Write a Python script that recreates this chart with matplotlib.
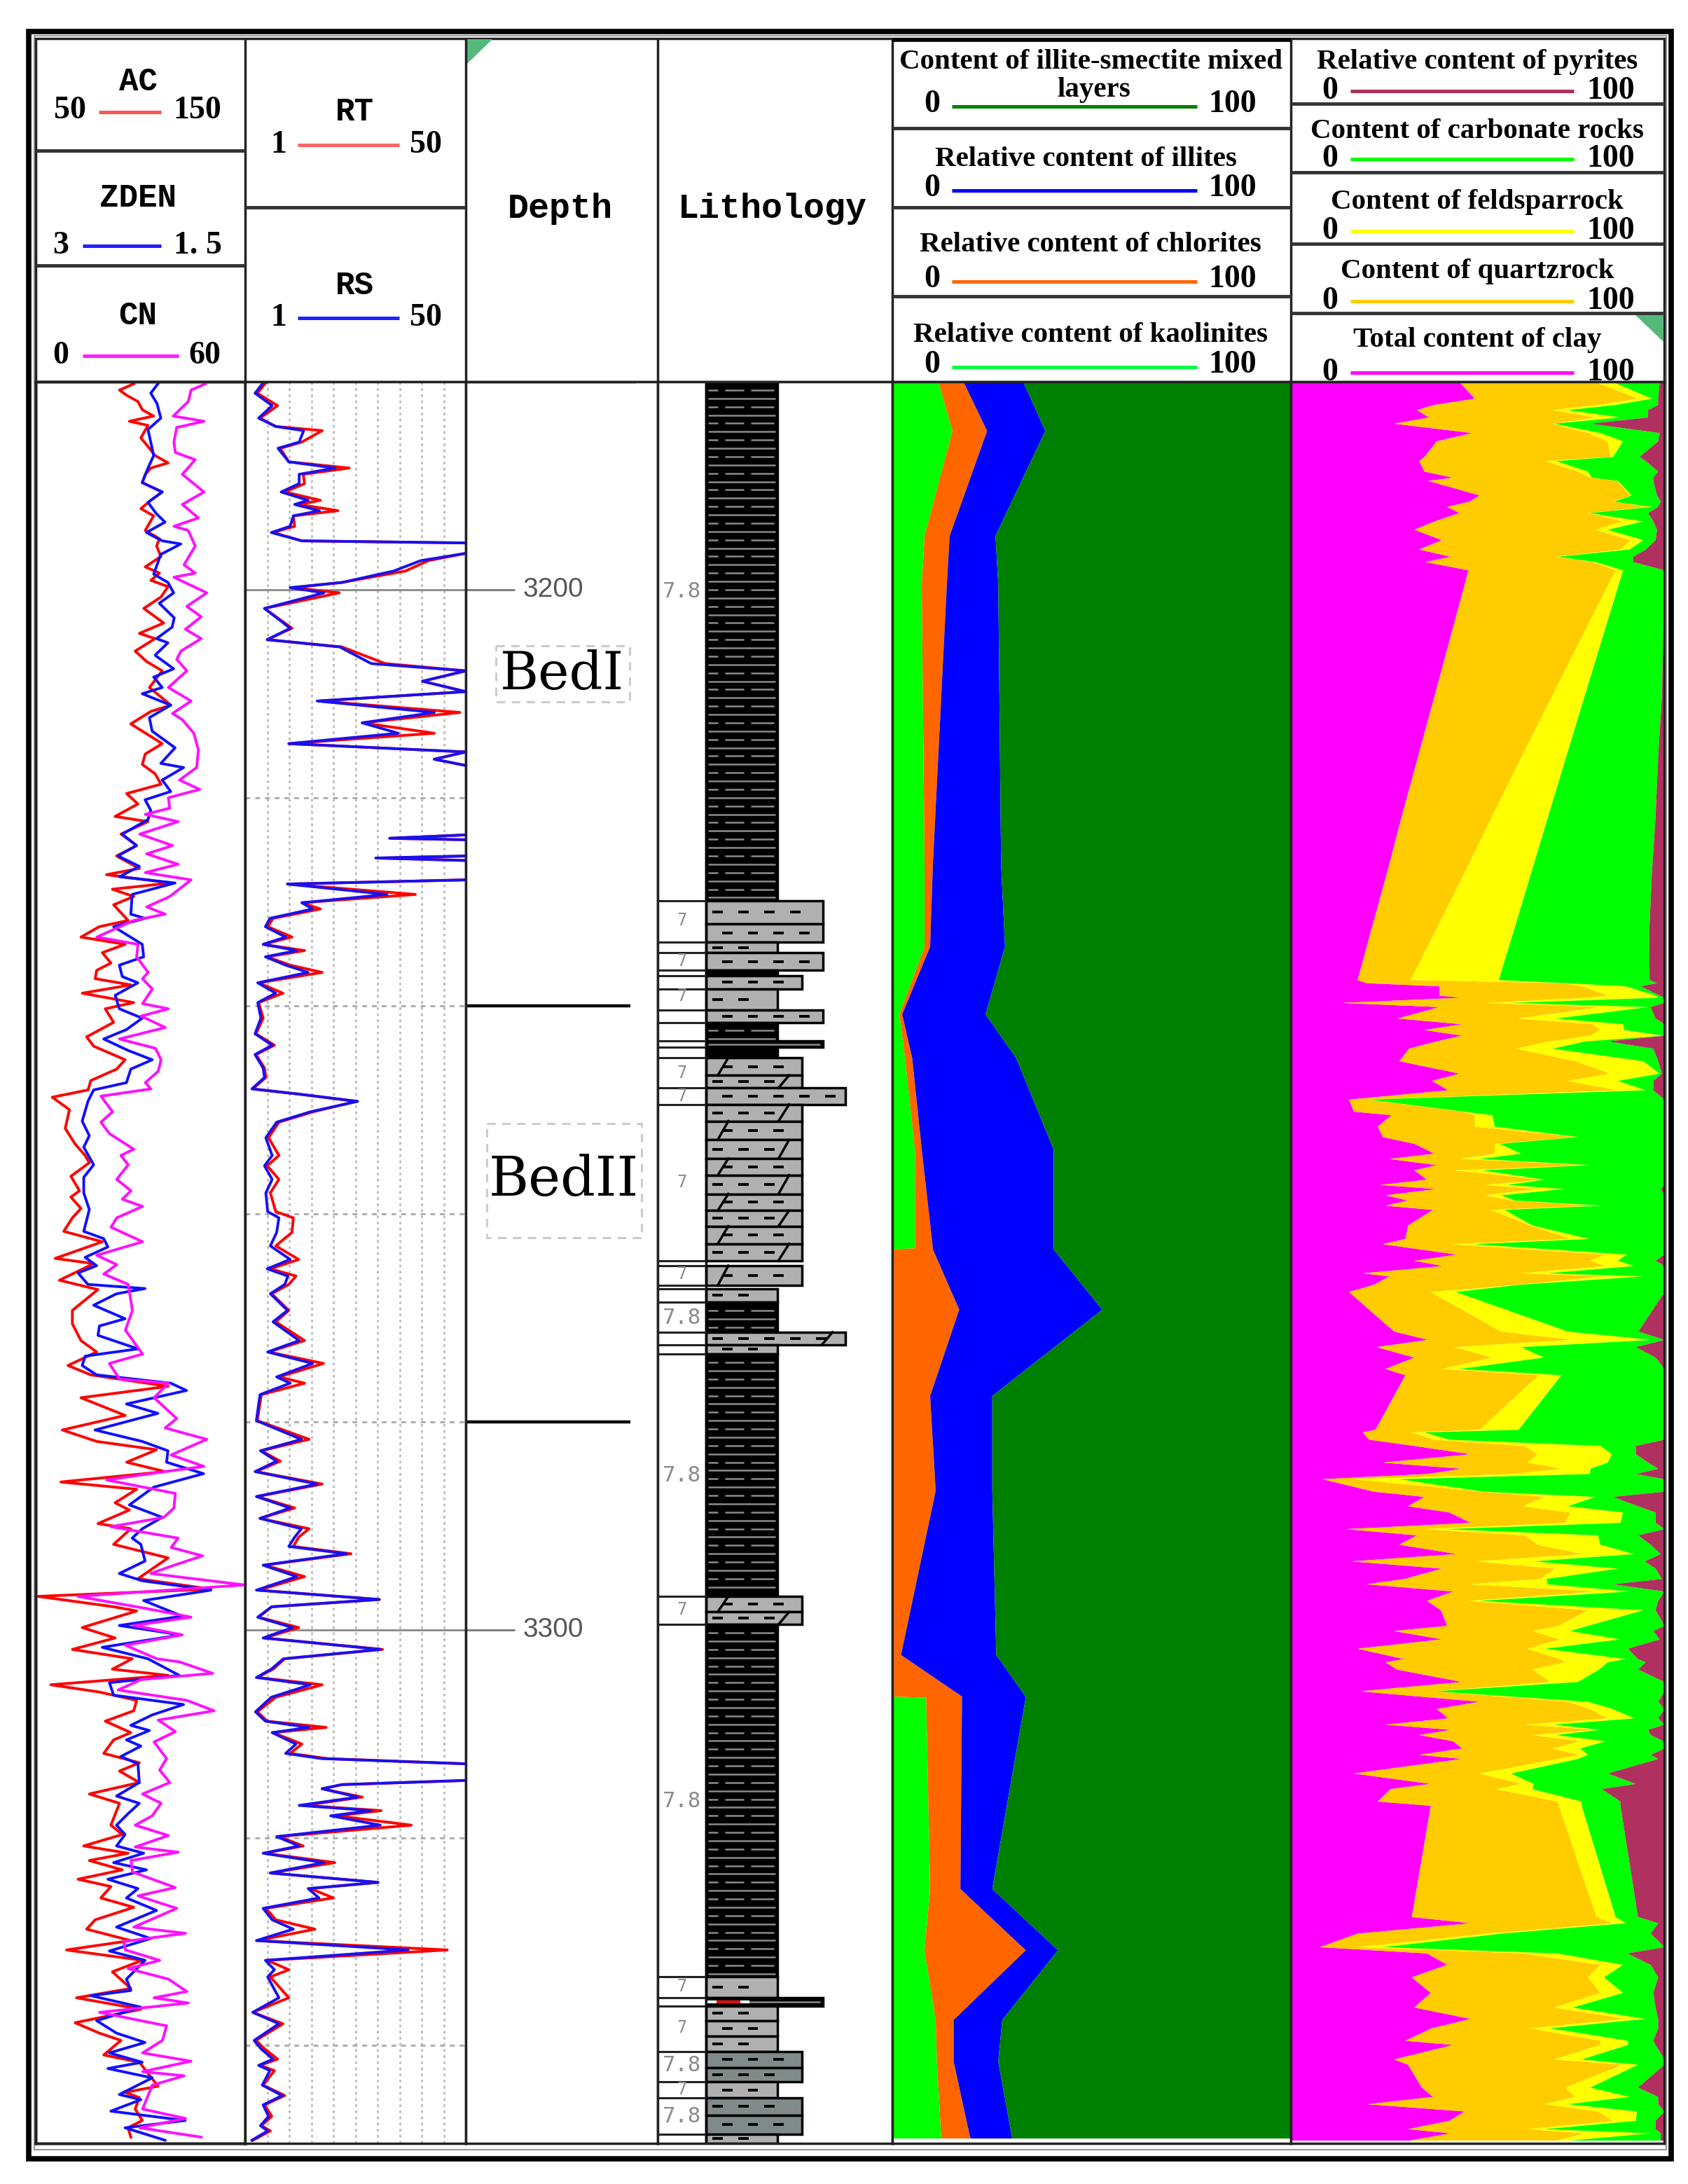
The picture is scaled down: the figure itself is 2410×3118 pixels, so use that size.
import numpy as np
import matplotlib
matplotlib.use("Agg")
import matplotlib.pyplot as plt
from matplotlib.patches import Rectangle, Polygon

W, H = 2410, 3118
TOP_DEPTH, BOTTOM_DEPTH = 3180, 3349.4

# track 1 logs
ac_depth = [3180.2,3180.8,3181.3,3181.9,3182.7,3183.3,3183.8,3184.2,3185.4,3186.4,
    3187.1,3187.8,3188.3,3188.9,3189.7,3190.6,3191.4,3192.2,3192.9,3194.3,
    3195.1,3195.8,3196.8,3197.8,3198.4,3199.1,3199.7,3200.7,3201.8,3203.2,
    3204.2,3204.7,3205.9,3206.9,3207.8,3209.4,3211.1,3211.7,3212.9,3213.6,
    3214.8,3215.8,3216.8,3217.7,3218.7,3219.6,3220.6,3221.8,3222.3,3223.5,
    3224.6,3225.6,3226.8,3227.4,3228.2,3228.8,3229.5,3230.3,3231.8,3232.4,
    3233.4,3234.1,3234.9,3235.9,3236.6,3237.4,3238,3238.8,3239.7,
    3240.3,3241.6,3243,3243.9,3245.2,3246.1,3247.2,3248.1,3248.8,3250,
    3251.8,3253.3,3254.4,3255.1,3256.4,3257.8,3258.4,3259.5,3260.4,3261.7,
    3262.7,3264.3,3264.8,3266.4,3267.3,3269.3,3270.6,3272.2,3273.3,3274.6,
    3275.5,3276.6,3277.7,3279.4,3280.8,3281.9,3282.7,3283.9,3284.8,3285.8,
    3286.5,3287.8,3288.5,3289.8,3290.3,3291.8,3293.1,
    3295.1,3296.1,3296.8,3297.8,3298.2,3299.8,3300.8,3301.9,3302.8,3303.8,
    3304.4,3305.3,3306,3306.8,3307.8,3308.8,3309.9,3310.6,3311.9,3312.8,
    3313.6,3314.7,3315.8,3316.7,3318.8,3319.7,3320.8,3321.5,3322.2,3323.1,
    3324,3324.7,3325.8,3326.7,3327.9,3328.8,3329.9,3330.8,3331.8,3332.9,
    3334.5,3335.4,3336.5,3337.8,3338.8,3339.5,3340.9,3341.6,3343.9,3344.5,
    3345,3346.1,3347.2,3347.9,3348.8]
ac = [96.8,90,93.4,98.8,100.9,106.3,94.7,103.6,100.2,104.3,
    107,113.2,105,102.3,100.9,110.4,105,100.2,106.3,102.3,
    109.1,107.7,109.8,102.3,109.1,105,113.2,109.8,101.6,111.1,
    99.5,107,97.5,102.9,110.4,104.3,114.5,105,95.4,100.9,
    110.4,102.3,100.9,107,109.8,93.4,98.8,87.9,103.6,90.7,
    98.2,88.6,99.5,83.8,114.5,86.6,96.8,87.2,94.1,80.4,
    71.6,92.7,81.8,85.9,79.1,78.4,95.4,72.2,96.8,
    83.2,87.2,74.3,77.7,92.7,88.6,76.3,75,57.9,66.1,
    64.1,68.8,73.6,75.6,66.8,70.9,66.8,71.6,67.5,63.4,
    81.8,59.3,77.7,61.3,79.7,67.5,67.5,71.6,79.1,65.4,
    76.3,113.2,71.6,92.7,62.7,79.1,107.7,93.4,111.8,62,
    98.2,87.9,94.7,79.7,95.4,87.2,113.2,
    98.8,133.6,51.1,87.2,98.2,72.2,87.9,67.5,96.1,86.6,
    113.2,57.2,80.4,98.2,96.8,83.2,95.4,87.2,82.5,99.5,
    90,99.5,75.6,90,85.9,91.3,72.9,94.1,75.6,91.3,
    70.2,85.9,81.1,96.8,78.4,74.3,95.4,64.7,100.9,86.6,
    95.4,69.5,100.2,68.8,80.4,90.7,82.5,99.5,108.4,92.7,
    99.5,97.5,100.9,94.1,95.4]

zden_depth = [3180.2,3181.1,3182.1,3183.5,3184.6,3185.8,3187.1,3188.3,3189.7,3190.6,
    3191.6,3192.7,3193.5,3194.5,3195.3,3195.6,3196.6,3198.5,3199.3,3200.3,
    3201.3,3202.7,3203.6,3204.7,3205.1,3206.3,3207.6,3208.4,3209.4,3210,
    3211.1,3212.3,3213.6,3215.2,3216.7,3217.1,3218.3,3219.4,3220.2,3221.2,
    3222.1,3223.5,3224.6,3225.6,3226.6,3227.6,3228.2,3229.3,3231.2,3231.6,
    3232.4,3234.1,3235.3,3236.1,3237.2,3237.8,
    3239,3240.3,3241.2,3242.3,3243.2,3244.3,3245.2,3246.1,3247.4,3248.1,
    3249.2,3251.1,3252.5,3253.6,3255.3,3256.5,3258,3259.6,3261.7,3262.4,
    3263.2,3264.2,3265,3265.7,3266.8,3267.2,3267.7,3268.8,3270.1,3270.8,
    3271.7,3273,3273.7,3274.6,3275.5,3276.3,3277,3278.3,3279.2,3280.8,
    3281.9,3282.8,3283.9,3285,3286.3,3288,3289.2,3290.3,3291.2,3291.8,
    3293.4,
    3294.6,3295.3,3296.2,3297.2,3298.7,3299.6,3300.5,3301.7,3302.8,3304.4,
    3305.1,3306.3,3307.2,3308.2,3309.2,3309.7,3310.6,3311.2,3312.2,3312.9,
    3314.7,3316,3316.7,3317.7,3318.8,3319.7,3320.8,3321.5,3322.4,3323.1,
    3324,3324.9,3325.8,3327,3328.6,3329.7,3330.9,3331.8,3333.6,3334.7,
    3335.2,3336.3,3337.6,3338.8,3339.7,3340.7,3341.6,3342.2,3343.1,3344.7,
    3345.2,3346.3,3347.2,3347.9,3349.1]
zden = [2.125,2.176,2.131,2.104,2.196,2.176,2.155,2.196,2.237,2.094,
    2.196,2.135,2.074,2.207,2.094,1.961,2.104,2.155,2.053,2.012,
    2.115,2.008,2.023,2.135,2.053,2.145,2.012,2.155,2.094,2.237,
    2.033,2.186,2.166,2.002,2.104,1.941,2.094,2.033,2.217,2.176,
    2.196,2.38,2.278,2.411,2.258,2.401,2.002,2.309,2.319,2.217,
    2.442,2.237,2.227,2.401,2.38,2.268,
    2.431,2.401,2.237,2.35,2.513,2.339,2.166,2.319,2.35,2.585,
    2.626,2.667,2.616,2.656,2.585,2.656,2.656,2.616,2.656,2.513,
    2.483,2.646,2.564,2.697,2.626,2.217,2.421,2.585,2.36,2.544,
    2.554,2.268,2.646,2.667,2.564,2.033,1.92,2.35,2.125,2.575,
    2.237,2.053,2.063,1.798,2.155,2.329,2.094,2.237,2.309,2.247,
    2.217,
    2.401,2.237,1.746,2.227,1.951,2.401,1.961,2.524,2.196,1.971,
    2.472,2.442,1.941,2.166,2.319,2.186,2.35,2.247,2.39,2.268,
    2.258,2.421,2.258,2.339,2.421,2.36,2.421,2.227,2.442,2.207,
    2.483,2.268,2.35,2.135,2.421,2.176,2.472,2.217,2.35,2.319,
    2.605,2.247,2.564,2.421,2.217,2.472,2.237,2.483,2.166,2.401,
    2.247,2.462,1.93,2.36,2.074]

cn_depth = [3180.2,3180.8,3181.9,3183.3,3183.8,3184.4,3185.8,3186.8,3187.5,3188.9,
    3190.6,3191.8,3193.1,3193.9,3194.3,3195.8,3197.6,3198.4,3198.8,3200.3,
    3201.6,3202.6,3203.8,3204.7,3205.9,3206.7,3207.8,3209.4,3210.7,3211.9,
    3212.5,3213.8,3215.4,3217.1,3218.3,3219.2,3220,3221,3221.6,3222.3,
    3223.5,3224.6,3225.4,3226.4,3227.2,3227.9,3229.5,3230.5,3231.2,3231.8,
    3233.4,3234.1,3235.3,3236.8,3237.4,3238.4,
    3239.8,3240.3,3241,3242.1,3243.2,3244.1,3245.2,3246.3,3247.4,3248,
    3248.7,3250.2,3251.2,3252.3,3253.8,3254.4,3255.3,3256.7,3257.8,3258.6,
    3259.3,3260.4,3261.3,3262.7,3264,3264.9,3265.8,3266.8,3269.3,3271.2,
    3273.5,3274.4,3275.9,3276.3,3277.7,3279.7,3280.6,3281.7,3283.2,3284.3,
    3284.8,3285.6,3286.9,3288.3,3289.2,3290.1,3291.2,3292.1,3292.9,
    3293.9,3294.6,3295.7,3296.8,3298,3298.8,3299.6,3300.5,3301.5,3302.8,
    3303.1,3304.2,3304.8,3305.8,3306.8,3307.8,3308.7,3309.8,3310.8,3312.4,
    3313.5,3314.7,3315.8,3316.7,3317.9,3318.8,3319.8,3320.9,3321.4,3322.2,
    3323.3,3324.8,3325.6,3326.8,3328.6,3329.2,3330,3330.8,3331.8,3332.6,
    3333.6,3334.8,3335.4,3335.9,3336.8,3338.1,3339.5,3340.7,3341.5,3342.5,
    3342.9,3343.8,3346.1,3347,3347.9,3348.8]
cn = [48.6,44.5,43.7,39.4,48.2,40.4,39.6,40,45.7,42,
    48.2,42,46.6,39.6,43.7,45.7,42.5,45.7,39.6,49,
    43.3,47.4,42.9,47.4,41.6,40.4,43.3,38,44.5,39.2,
    42,45.3,46.6,46.1,41.2,47,38,38.4,31.4,40.8,
    29.8,39.2,31.8,40.8,31.4,44.5,38.4,31.8,37.1,28.1,
    17.5,29.3,28.9,32.2,30.6,33.4,
    30.6,38,30.2,37.1,24,34.3,35.9,35.1,31.4,33,
    18.7,22,18.7,21.1,28.1,24.4,26.5,23.2,27.3,24.8,
    30.6,23.2,21.6,30.6,17.5,23.2,19.5,26.5,27.7,25.7,
    30.6,21.1,24,38,33.9,40.4,37.1,49,38.8,48.2,
    37.1,20.3,40,39.6,36.7,21.6,40.8,38.8,47.8,
    38.8,33,59.8,12.1,32.2,44.5,28.1,42,25.7,34.7,
    41.2,50.7,30.2,23.6,43.3,51.1,35.1,40,33.9,37.5,
    35.5,38.4,30.6,35.9,33.4,28.5,38,28.5,40.8,27.3,
    27.7,40,29.3,40.4,28.1,42.9,25.2,25.7,35.5,26.5,
    38,43.3,33.9,43.7,18.3,37.5,36.3,30.6,44.5,30.6,
    42.5,33.4,30.6,42.9,29.8,47.4]

# track 2 resistivity, 80 means off the scale
res_depth = [3180.1,3181.1,3182.3,3183.5,3184.3,3184.7,3185.8,3186.4,3187.7,3188.3,
    3188.9,3189.8,3190.6,3191.4,3191.8,3192.4,3192.9,3193.9,3194.5,3195.3,
    3195.5,3196,3196.5,3197.2,3198.2,3199.3,3199.8,3200.3,3201.8,3203.7,
    3204.8,3205.5,3207.1,3207.8,3208.8,3209.8,3210.7,3211.8,3212.8,3213.8,
    3214.8,3215.6,3216.3,3216.9,3217.5,3223,3223.9,3224.3,3225.3,3225.8,
    3226.4,3227.6,3228.3,3229.3,3230.1,3230.7,3231.6,3232.4,3233.4,3234.1,
    3234.7,3235.3,3236.1,3236.8,3237.8,3238.8,3239.7,3241.2,3242.7,3243.8,
    3244.7,3246,3246.9,3248,3248.5,3249.2,3250.2,3251.2,3252.7,3254.4,
    3255.4,3256.7,3258,3259.8,3260.4,3261.8,3263.1,3264.4,3265.3,3266,
    3266.8,3267.7,3269.3,3270.4,3272.2,3273.3,3274.4,3275.7,3276.3,3277.4,
    3279.9,3281.7,3282.8,3283.8,3284.8,3286,3287.2,3288.3,3289.3,3290.3,
    3291.1,3292,3292.7,3293.8,3294.9,3296.2,3297.1,3297.8,3298.8,3299.8,
    3300.8,3301.9,3302.8,3303.8,3304.6,3305.3,3306.5,3307.9,3308.8,3309.4,
    3309.9,3311,3311.9,3312.4,3312.9,3313.8,3314.5,3314.9,3315.3,3316.1,
    3316.9,3317.4,3317.9,3318.8,3319.9,3320.8,3321.5,3322.4,3323.4,3324.3,
    3324.9,3325.8,3326.8,3327.9,3328.8,3329.9,3330.8,3331.8,3332.7,3333.4,
    3335.4,3336.8,3337.9,3339.5,3340.3,3341.3,3341.9,3342.4,3343.8,3344.8,
    3345.7,3346.8,3347.7,3348.2,3349.1]
rt = [5.6,3.7,8.2,4.3,7.8,18.1,13.6,8.8,10.7,24.1,
    13.9,14.2,9.8,17.7,12.9,21.6,11.7,12,7.2,13.6,
    50,80,50,41.7,36.6,22.5,11.7,21.9,5.3,11.4,
    5.9,22.5,32.1,50,40.4,50,17.4,48.7,27,43,
    10.7,50,43,50,80,80,33.1,80,80,31.2,
    80,80,10.4,38.8,13.6,17.7,7.2,6,11.4,5,
    14.2,5.9,11,18.1,4,9.4,4,5,3.4,7.5,
    3.4,5.3,5.6,2.7,12.9,25.7,16.1,8.5,6.2,8.5,
    5.9,8.5,6.6,7.8,11.7,11.4,7.8,12.9,6.6,12.3,
    10.7,6.9,10.7,7.8,14.2,6.2,18.4,8.5,14.2,4.6,
    3.7,15.2,4.6,8.8,3.4,18.1,3.7,12,4.3,15.2,
    12.9,11.7,24.5,5.3,14.2,4,30.8,6.9,4,12.9,
    5.3,31.5,9.8,7.2,3.7,18.1,7.8,3.7,5.9,19,
    7.2,13.6,11,19.3,50,80,50,22.5,18.1,27,
    14.2,31.2,21.3,37.9,8.5,13.9,5.3,20.9,6.6,30.5,
    15.5,20.6,5.6,7.8,16.5,3.7,45.9,5.9,10.7,6.6,
    10.7,2.7,9.4,3.4,5.3,8.2,4.3,7.5,5,9.8,
    5.3,6.9,4.6,6.6,2.7]
rs = [5,3.2,7,4,7.8,14,13,8.3,10.7,21,
    13,13,9,15,12,17.5,11.7,11,6.8,13.6,
    50,80,50,40,34,22.5,11,18.5,5.3,11,
    5.9,22,29,50,40.4,50,17,43,27,35,
    10.7,50,43,50,80,80,33.1,80,80,30,
    80,80,10.4,32.5,13.6,16,6.5,5.5,10,5,
    12.5,5.5,10,15,3.8,7.8,3.8,4.5,3.2,7,
    3.2,5,5.3,2.5,12.9,26,15.5,8,5.6,7,
    5.3,7,5.6,6,8.5,8,6.6,11,5.9,10.5,
    9.8,6.6,10.4,7.2,13,6,16,8,11,4.3,
    3.5,13.5,4.4,8,3.2,17,3.5,11,4.3,13.5,
    12,10.7,23.5,5,12.5,3.5,30.8,6.9,3.8,11.5,
    5,31,9.5,6.8,3.5,15.5,6.8,3.3,5.5,15.2,
    7,12.3,10,18,50,80,50,22.5,18.1,26,
    13,29,20,31,8,13,5,18.5,6.6,30.5,
    15,17.4,5,7,11.7,3.5,37.2,5.5,7.5,6,
    8.5,2.7,8.5,3,4.5,7.2,4,6.5,4.8,9.2,
    5,6.2,4.4,6,2.5]

# depth track
major_depths = [3200, 3300]
minor_depths = [3220, 3240, 3260, 3280, 3320, 3340]
bed_depths = [3180, 3240, 3280]

# lithology column
litho_top = [3180,3229.9,3232.1,3233.9,3234.9,3236.6,3237.1,3238.4,3240.4,3241.6,3243.4,3244,
    3245,3246.7,3247.9,3249.5,3251.1,3252.9,3254.7,3256.3,3258.1,3259.7,3261.2,3262.9,
    3265,3267.2,3268.5,3271.4,3272.6,3273.5,3296.8,3298.3,3299.5,3333.4,3335.4,
    3336.2,3337.6,3339.1,3340.6,3342.1,3343.5,3345,3346.7,3348.5]
litho_bottom = [3229.9,3232.1,3233.9,3234.9,3236.6,3237.1,3238.4,3240.4,3241.6,3243.4,3244,3245,
    3246.7,3247.9,3249.5,3251.1,3252.9,3254.7,3256.3,3258.1,3259.7,3261.2,3262.9,3264.5,
    3266.9,3268.5,3271.4,3272.6,3273.5,3296.8,3298.3,3299.5,3333.4,3335.4,3336.2,
    3337.6,3339.1,3340.6,3342.1,3343.5,3345,3346.7,3348.5,3349.4]
litho_width = [51,70.4,70.4,51,70.4,51,61.5,51,70.4,51,70.4,51,
    61.5,61.5,80,61.5,61.5,61.5,61.5,61.5,61.5,61.5,61.5,61.5,
    61.5,51,51,80,51,51,61.5,61.5,51,51,70.4,
    51,51,51,61.5,61.5,51,61.5,61.5,51]
litho_kind = ["shale","silt","silt","silt","silt","shale","silt","silt","silt","shale","shale","shale",
    "slash","slash","silt","slash","slash","slash","slash","slash","slash","slash","slash","slash",
    "slash","silt","shale","slash","silt","shale","slash","slash","shale","silt","shale",
    "silt","silt","silt","dark","dark","silt","dark","dark","silt"]
litho_breaks = [3229.9,3233.9,3234.9,3236.6,3237.1,3238.4,3240.4,3241.6,3243.4,3244,3245,
    3247.9,3249.5,3264.5,3265,3266.9,3267.2,3268.5,3271.4,3272.6,3273.5,
    3296.8,3299.5,3333.4,3335.4,3336.2,3340.6,3343.5,3345,3348.5]
label_big_depth = [3200.2,3270,3285.2,3316.5,3341.9,3346.8]
label_small_depth = [3231.8,3235.7,3239.1,3246.5,3248.7,3257,3265.8,3298.1,3334.3,3338.3,3344.2]

# clay minerals, cumulative edge in percent
clay_depth = [3180,3184.7,3194.8,3199.5,3226.3,3234.3,3240.8,3245,3253.8,3263.3,3263.4,
    3269.2,3277.5,3286.6,3302.4,3306.4,3306.5,3324.9,3330.8,3337.5,3341.5,3348.9]
kaolinite_edge = [11.5,15,8,7.3,8,8,1.7,3.1,5.6,5.6,0.3,0.3,0.3,0.3,0.3,0.3,8.4,9.4,8,10.8,11.1,12.2]
chlorite_edge = [17.8,23.7,14.3,13.6,10.1,9.4,2.4,4.9,7.3,10.1,10.1,16.7,9.4,10.8,2.1,17.4,17.4,17,33.4,15.3,15.3,19.5]
illite_edge = [32.8,38.3,25.8,26.5,27.2,28.2,23.3,31,40.4,40.4,40.4,52.6,25,25,26,33.4,33.4,25,41.5,27.5,26.5,30]

# rock composition, cumulative edge in percent
rock_depth = [3180,3181.6,3182.2,3182.7,3183.4,3184,3184.9,3185.7,3187.2,3187.6,
    3188.6,3189.2,3189.5,3190.9,3191.5,3192,3192.6,3193.4,3194.2,3195.2,
    3196.1,3196.8,3197.3,3198.1,3210.2,3216,3221.8,3227.3,3232.9,3237.5,
    3237.8,3238.1,3239,3239.2,3239.7,3240.1,3241.2,3241.75,3242.3,3242.85,
    3243.4,3244.1,3245.3,3246.5,3247.2,3248.1,3249,3250.15,3250.5,3251.6,
    3252.6,3253.25,3254.2,3254.7,3255.3,3255.8,3256.7,3257.2,3257.6,3258.2,
    3258.7,3259.2,3259.6,3261.1,3262.4,3262.9,3263.9,3264.5,3265,3265.7,
    3266,3266.8,3267.5,3271.3,3272.1,3272.8,3273.8,3274.9,3275.5,3280.75,
    3281,3281.7,3282.3,3283.1,3283.9,3284.5,3285,3285.5,3286.7,3287.2,
    3288.1,3288.7,3289.7,3290.3,3290.9,3291.8,3292.7,3293.4,3294.1,3295.1,
    3295.6,3296.3,3297.2,3298.1,3299.6,3300.1,3300.9,3301.8,3302.8,3303.1,
    3303.8,3305,3305.9,3306.9,3307.6,3308.5,3309.1,3309.6,3310.1,3310.7,
    3311.4,3312,3312.4,3313.8,3314.8,3315.3,3316.5,3316.9,3327.6,3328.2,
    3329.2,3330.5,3331.1,3332.2,3333.4,3334.9,3336.3,3337.4,3338.3,3339.5,
    3339.9,3341.3,3341.8,3344,3344.9,3345.6,3346.3,3347.2,3348,3348.4,
    3349.1]
clay_edge = [45.1,49.2,38.4,33.7,37,27.6,48.5,39,35.7,34.3,
    35.7,43.4,36.7,50.5,47.8,41.8,45.1,38.4,33,40.4,
    34.3,42.8,36,47.5,38.4,34,29.6,25.6,21.3,17.8,
    20.2,39.7,39.7,45.8,13.8,39.7,28.6,45.8,35.7,45.8,
    39,31.6,29,45.1,37.7,42.1,15.5,16.8,26.9,23.2,
    24.6,33,38.4,26.3,39,33,36.4,23.9,39,25.3,
    31.3,25.3,38,31.3,30.6,24.6,44.4,33,40.7,19.2,
    26.3,22.2,15.5,27.6,36.7,22.9,33,25.3,30.6,22.6,
    19.2,20.9,33,48.1,24.6,45.8,36.4,8.4,22.2,35.7,
    31.3,42.4,48.1,14.8,33.7,29,44.4,16.2,40.4,30.3,
    20.2,43.4,36.4,40.1,41.8,27.6,40.4,17.8,30.3,25.3,
    28.3,45.8,18.5,50.5,39,42.1,25.3,42.8,34.3,43.4,
    45.8,34.3,45.8,16.8,37.4,26.6,23.2,37.4,32.3,48.1,
    17.8,7.7,36.4,41.8,32.3,37.4,33,48.1,37.7,30.6,
    43.4,27.6,31.3,35,38,20.5,46.5,42.4,31.3,42.8,
    31.6]
quartz_edge = [81.5,92.9,82.2,70,81.5,70,79.5,84.8,85.5,68,
    76.8,80.1,87.2,90.9,86.2,95.6,79.5,88.9,81.5,90.9,
    88.2,71,80.8,86.9,69.9,61.8,53.8,46.3,38.5,32,
    72.7,78.1,84.8,79.5,52.2,82.8,60.9,80.8,82.8,80.1,
    69.4,60.3,76.1,85.5,74.1,87.5,20.5,45.8,49.2,49.2,
    76.8,54.5,54.5,45.1,80.1,43.8,67.7,51.9,66,51.9,
    59.3,80.8,53.5,64,74.7,42.8,84.2,80.1,84.2,61.6,
    84.2,60.9,37.4,56.2,75.4,43.8,53.9,40.4,66.3,50.5,
    32.3,38.4,62.6,66,63.3,72.7,59.3,16.8,51.2,68,
    62,74.7,73.4,35.7,62.6,66,78.1,49.5,70.7,66.7,
    47.8,82.2,47.5,79.5,71.7,64.6,72,63.3,72,73.4,
    64.6,69.4,38.4,74.1,80.1,84.8,62.6,81.5,64.6,77.4,
    70,77.4,71.4,50.5,61.6,54.9,71.4,71.7,81.8,86.2,
    52.5,17.8,62,82.8,79.5,82.8,70.4,89.6,64,82.8,
    82.8,70.4,88.9,73.4,76.1,68,82.2,86.2,63.3,78.8,
    71.4]
feldspar_edge = [86.2,96.6,86.9,74.1,88.2,70.4,82.8,88.9,86.2,71,
    79.5,80.5,87.5,91.2,86.5,96.6,79.8,94.3,84.8,94.3,
    90.6,71.4,81.5,88.9,78.6,73.7,68.8,64.2,59.5,55.6,
    73.4,89.6,97.6,98.3,58.9,95.6,71,88.9,89.2,99.7,
    78.8,70,94.3,98.7,87.5,95,20.9,46.1,53.9,54.5,
    76.9,55.9,61.6,50.5,80.5,51.2,67.9,57.9,73.1,56.2,
    59.9,83.5,57.2,64.6,79.8,48.8,89.9,87.5,91.9,68.7,
    94.3,61.3,44.1,74.1,96.6,61.6,67.7,45.1,72.4,60.9,
    35.7,42.4,82.8,85.9,84.8,80.1,80.1,29,51.5,81.5,
    74.1,88.9,88.2,41.4,82.2,82.8,91.9,65,87.5,68.4,
    68.7,90.6,50.5,94.3,79.5,74.7,88.2,68,89.6,84.8,
    82.5,76.8,38.5,79.5,86.2,91.9,70.4,82.8,71,84.2,
    77.4,79.5,76.8,58.9,65,64.6,77.8,77.8,86.9,89.6,
    56.2,24.6,71.4,88.9,83.8,88.9,75.4,94.9,69.4,90.2,
    90.2,77.8,92.9,80.1,90.6,74.1,92.6,92.3,68,96.3,
    74.7]
carbonate_edge = [98.7,98.3,98.3,95.6,95.6,80.1,98.7,98.3,93.3,95,
    98.3,97,97,98,99,98.3,95.6,97,98,97.6,
    95,91.6,91.6,100,99.3,98.3,97.6,96.6,95.9,96,
    98,93.6,98.7,100,100,96.3,97.6,100,100,100,
    84.8,97,98.3,99.3,97,97,100,100,100,100,
    100,100,100,100,100,100,100,100,99,100,
    100,100,100,100,100,100,100,97.6,100,100,
    100,100,100,93,100,92.3,97.6,100,100,100,
    100,100,92.3,92.3,95.6,98.3,92.3,100,100,86.2,
    92.9,97.6,97.6,100,92.9,96.3,99,94.7,97.6,99.3,
    86.2,100,98.3,97.6,100,97,98.7,90.2,92.9,95,
    92.9,100,100,98.3,100,98.3,100,95.6,96.3,99.7,
    100,96.3,98.3,84.8,92.3,83.2,88.2,88.2,92.9,98.3,
    96.3,100,90,96.3,98.3,97,97.6,98.3,98.3,97,
    97.6,100,100,92.9,98.3,98.3,100,97.6,97.6,99,
    99]


def axes_px(x0, y0, x1, y1, **kw):
    return fig.add_axes([x0 / W, 1 - y1 / H, (x1 - x0) / W, (y1 - y0) / H], **kw)


def bare(ax):
    ax.set_xticks([])
    ax.set_yticks([])
    for s in ax.spines.values():
        s.set_linewidth(2.5)
        s.set_color("#222222")


def track(x0, x1, xlim):
    ax = axes_px(x0, 545, x1, 3060, zorder=2)
    ax.set_xlim(*xlim)
    ax.set_ylim(BOTTOM_DEPTH, TOP_DEPTH)
    bare(ax)
    return ax


fig = plt.figure(figsize=(W / 100, H / 100), dpi=100, facecolor="white")
page = fig.add_axes([0, 0, 1, 1], zorder=1)
page.set_xlim(0, W)
page.set_ylim(H, 0)
page.axis("off")

mono = dict(family="Liberation Mono", weight="bold", ha="center", va="center")
num = dict(family="Liberation Serif", weight="bold", ha="center", va="center", fontsize=33)
head = dict(family="Liberation Serif", weight="bold", ha="center", va="center", fontsize=29.5)

# outer frame
page.add_patch(Rectangle((41, 45), 2345, 3037, fill=False, ec="black", lw=5.5))
page.add_patch(Rectangle((49, 51), 2330, 3018, fill=False, ec="#999999", lw=1.5))
page.add_patch(Rectangle((51, 55), 2325, 490, fill=False, ec="#222222", lw=2.5))
page.vlines([350, 665, 939, 1274, 1843], 55, 545, color="#222222", lw=2.5)
page.hlines([215, 379], 51, 350, color="#333333", lw=3.5)
page.hlines(296, 350, 665, color="#333333", lw=3.5)
page.hlines([183, 296, 423], 1274, 1843, color="#333333", lw=3.5)
page.hlines(57, 1274, 1843, color="black", lw=4)
page.hlines([148, 246, 348, 447], 1843, 2376, color="#333333", lw=3.5)


def sample(x0, x1, y, color):
    page.hlines(y, x0, x1, color=color, lw=3.6)


# header track 1 and 2
for name, y in [("AC", 117), ("ZDEN", 283), ("CN", 451)]:
    page.text(197, y, name, fontsize=33, **mono)
page.text(100, 158, "50", **num)
page.text(282, 158, "150", **num)
sample(141, 230, 160, "#ff5555")
page.text(87, 351, "3", **num)
page.text(282, 351, "1. 5", **num)
sample(118, 230, 351, "#2020ff")
page.text(87, 508, "0", **num)
page.text(292, 508, "60", **num)
sample(118, 255, 508, "#ff20ff")
for name, y_name, y_row, col in [("RT", 160, 207, "#ff6666"), ("RS", 408, 454, "#2020ff")]:
    page.text(506, y_name, name, fontsize=33, **mono)
    page.text(398, y_row, "1", **num)
    page.text(608, y_row, "50", **num)
    sample(425, 570, y_row, col)
page.text(800, 298, "Depth", fontsize=36, **mono)
page.text(1103, 298, "Lithology", fontsize=36, **mono)
page.add_patch(Polygon([(667, 56), (703, 56), (667, 91)], color="#55b87a", lw=0))
page.add_patch(Polygon([(2334, 449), (2375, 449), (2375, 488)], color="#55b87a", lw=0))

# header clay minerals
page.text(1557, 88, "Content of illite-smectite mixed", **head)
page.text(1562, 128, "layers", **head)
for name, x, y_name, y_row, col in [
    (None, 0, 0, 152, "#008000"),
    ("Relative content of illites", 1550, 227, 272, "#0000ff"),
    ("Relative content of chlorites", 1557, 349, 402, "#ff6600"),
    ("Relative content of kaolinites", 1557, 478, 524, "#00ff40"),
]:
    if name:
        page.text(x, y_name, name, **head)
    page.text(1331, y_row - 3, "0", **num)
    page.text(1760, y_row - 3, "100", **num)
    sample(1359, 1709, y_row, col)

# header rock composition
for name, y_name, y_row, col in [
    ("Relative content of pyrites", 88, 130, "#b03060"),
    ("Content of carbonate rocks", 187, 227, "#00ff00"),
    ("Content of feldsparrock", 288, 330, "#ffff00"),
    ("Content of quartzrock", 387, 430, "#ffcc00"),
    ("Total content of clay", 485, 532, "#ff00ff"),
]:
    page.text(2109, y_name, name, **head)
    page.text(1899, y_row, "0", **num)
    page.text(2300, y_row, "100", **num)
    sample(1928, 2247, y_row, col)

# track 1
ax1 = track(51, 350, (50, 150))
ax1.plot(ac, ac_depth, color="#ff0000", lw=2.8)
ax_z = ax1.twiny()
ax_z.set_xlim(3, 1.5)
bare(ax_z)
ax_z.plot(zden, zden_depth, color="#1010ff", lw=2.8)
ax_c = ax1.twiny()
ax_c.set_xlim(0, 60)
bare(ax_c)
ax_c.plot(cn, cn_depth, color="#ff10ff", lw=2.8)

# track 2
ax2 = track(350, 665, (1, 50))
ax2.vlines(np.linspace(1, 50, 11)[1:-1], TOP_DEPTH, BOTTOM_DEPTH, color="#b5b5b5", lw=1.8, linestyles=(0, (1.5, 2)))
ax2.hlines(minor_depths, 1, 50, color="#aaaaaa", lw=2, linestyles=(0, (2.5, 2.5)))
ax2.hlines(major_depths, 1, 50, color="#888888", lw=2)
ax2.plot(rt, res_depth, color="#ff0000", lw=2.8)
ax2.plot(rs, res_depth, color="#1a10f0", lw=2.8)

# depth track
ax3 = track(665, 939, (0, 100))
ax3.hlines(major_depths, 0, 25.5, color="#777777", lw=2)
for d in major_depths:
    ax3.text(45.6, d, str(d), family="Liberation Sans", fontsize=28, color="#555555", ha="center", va="center")
ax3.hlines(bed_depths, 0, [88.7, 85.8, 85.8], color="black", lw=3.2)
ax3.add_patch(Rectangle((15.7, 3205.4), 69.7, 5.4, fill=False, ec="#cccccc", lw=2.2, ls=(0, (4, 3))))
ax3.add_patch(Rectangle((11, 3251.3), 80.6, 11, fill=False, ec="#cccccc", lw=2.2, ls=(0, (4, 3))))
ax3.text(50.3, 3208.2, "BedI", family="DejaVu Serif", fontsize=54, ha="center", va="center")
ax3.text(51, 3256.8, "BedII", family="DejaVu Serif", fontsize=56, ha="center", va="center")

# lithology
ax4 = track(939, 1274, (0, 100))
left = 20.6
ax4.axvline(left, color="black", lw=2.5)
ax4.hlines(litho_breaks, 0, left, color="#222222", lw=2.2)
colors = {"shale": "black", "silt": "#b0b0b0", "slash": "#b0b0b0", "dark": "#808a8a"}
flip = 0
for top, bot, right, kind in zip(litho_top, litho_bottom, litho_width, litho_kind):
    ax4.barh((top + bot) / 2, right - left, height=bot - top, left=left, color=colors[kind], edgecolor="black", lw=2.5)
    flip = 1 - flip
    if kind == "shale":
        rows = np.arange(top + 0.8, bot - 0.2, 0.8)
        for i, r in enumerate(rows):
            if i % 2:
                ax4.hlines(r, left + 1, min(right, 51) - 1, color="#8a8a8a", lw=1.8)
            else:
                ax4.hlines([r, r, r], [left + 1, left + 8, left + 19], [left + 5, left + 16, left + 29], color="#8a8a8a", lw=1.8)
        if right > 51:
            ax4.hlines((top + bot) / 2, left + 1, right - 1, color="#8a8a8a", lw=1.8)
    else:
        xs = np.arange(left + 5 + flip * 4, right - 5, 11)
        mid = (top + bot) / 2
        ax4.hlines(np.full(len(xs), mid), xs - 2.2, xs + 2.2, color="black", lw=2.8)
    if kind == "slash":
        sx = left + 5 if flip else right - 10
        ax4.plot([sx, sx + 4.5], [bot, top], color="black", lw=2.5)
ax4.hlines(3335.8, left + 0.5, 39, color="white", lw=3)
ax4.hlines(3335.8, left + 4.5, left + 14.5, color="#e01010", lw=3)
for d in label_big_depth:
    ax4.text(10.3, d, "7.8", family="DejaVu Sans Mono", fontsize=22, color="#8a8a8a", ha="center", va="center")
for d in label_small_depth:
    ax4.text(10.3, d, "7", family="DejaVu Sans Mono", fontsize=17, color="#8a8a8a", ha="center", va="center")

# clay minerals
ax5 = track(1274, 1843, (0, 100))
ax5.set_facecolor("white")
cd = np.array(clay_depth)
ax5.fill_betweenx(cd, 0, kaolinite_edge, color="#00ff00", lw=0)
ax5.fill_betweenx(cd, kaolinite_edge, chlorite_edge, color="#ff6600", lw=0)
ax5.fill_betweenx(cd, chlorite_edge, illite_edge, color="#0000ff", lw=0)
ax5.fill_betweenx(cd, illite_edge, 100, color="#008000", lw=0)

# rock composition
ax6 = track(1843, 2376, (0, 100))
rd = np.array(rock_depth)
ax6.fill_betweenx(rd, 0, clay_edge, color="#ff00ff", lw=0)
ax6.fill_betweenx(rd, clay_edge, quartz_edge, color="#ffcc00", lw=0)
ax6.fill_betweenx(rd, quartz_edge, feldspar_edge, color="#ffff00", lw=0)
ax6.fill_betweenx(rd, feldspar_edge, carbonate_edge, color="#00ff00", lw=0)
ax6.fill_betweenx(rd, carbonate_edge, 100, color="#b03060", lw=0)

fig.savefig("out.png", dpi=100)
